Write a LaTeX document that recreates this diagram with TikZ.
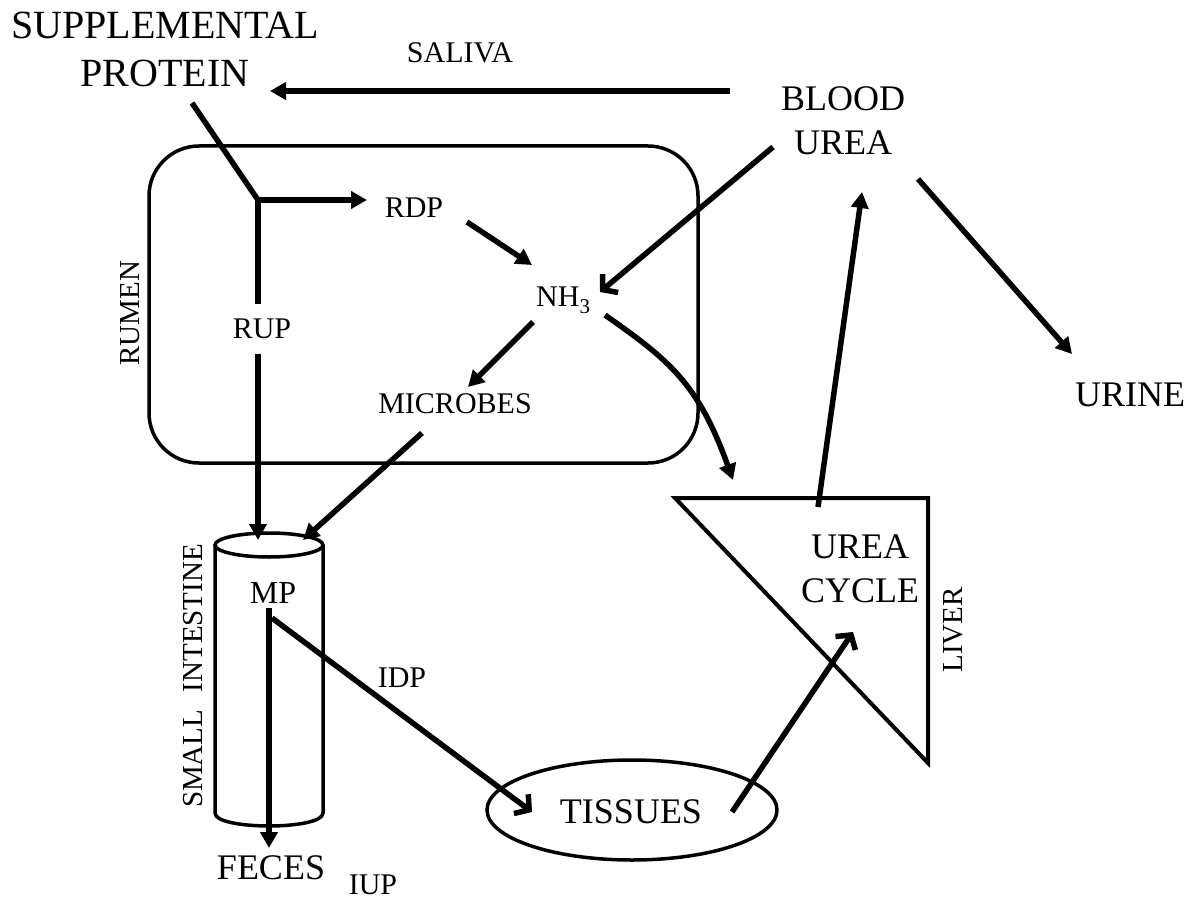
\documentclass[tikz,border=0pt]{standalone}
\usepackage{fontspec}
\setmainfont{Liberation Serif}
\usetikzlibrary{arrows.meta,calc,shapes.geometric}
\tikzset{
  sptxt/.style={font=\fontsize{40}{48}\selectfont, align=center, inner sep=0pt},
  bigtxt/.style={font=\fontsize{36}{44}\selectfont, align=center, inner sep=0pt},
  smalltxt/.style={font=\fontsize{30}{36}\selectfont, inner sep=0pt},
  sidetxt/.style={font=\fontsize{29}{34}\selectfont, inner sep=0pt, rotate=90},
  arr/.style={line width=5.5pt, -{Triangle[length=16pt,width=17pt]}},
  oarr/.style={line width=5.5pt, -{Straight Barb[length=10pt,width=24pt]}},
  plain/.style={line width=5.5pt},
  shapeline/.style={line width=3.5pt},
}
\begin{document}
\begin{tikzpicture}[x=1pt,y=-1pt]
\useasboundingbox (0,0) rectangle (1193,901);

% containers
\draw[shapeline, rounded corners=50pt] (149,146) rectangle (698,463);
\coordinate (cyl) at (269,679);
\draw[shapeline] (cyl) ++(0,-134) ellipse [x radius=54pt, y radius=12pt];
\draw[shapeline] (215,545) -- (215,813) .. controls (215,830.3) and (323,830.3) .. (323,813) -- (323,545);
\draw[shapeline, line width=4pt, line join=miter] (675,498) -- (928,498) -- (928,763) -- cycle;
\node[draw, shapeline, ellipse, minimum width=290pt, minimum height=100pt, inner sep=0pt] (tissues) at (632,810) {};
\node[bigtxt] (tissuestxt) at (631,812) {TISSUES};

% labels
\node[sptxt] (sp) at (165,49) {SUPPLEMENTAL\\PROTEIN};
\node[smalltxt] (saliva) at (460,53) {SALIVA};
\node[bigtxt] (blood) at (843,121) {BLOOD\\UREA};
\node[bigtxt] (urine) at (1130,395) {URINE};
\node[smalltxt] (rdp) at (414,208) {RDP};
\node[smalltxt, anchor=base west] (nh3) at (536,306) {NH\raisebox{-7pt}{\fontsize{21}{21}\selectfont 3}};
\node[smalltxt] (microbes) at (455,404) {MICROBES};
\node[bigtxt, font=\fontsize{32}{38}\selectfont] (mp) at (273,593) {MP};
\node[bigtxt] (feces) at (271,868) {FECES};
\node[smalltxt] (iup) at (373,885) {IUP};
\node[smalltxt] (idp) at (402,678) {IDP};
\node[bigtxt] (uc) at (860,569) {UREA\\CYCLE};
\node[sidetxt] (rumen) at (130,313) {RUMEN};
\node[sidetxt] (si) at (193,676) {SMALL\hspace{0.35em} INTESTINE};
\node[sidetxt] (liver) at (953,630) {LIVER};

% connectors
\coordinate (split) at (258,200);
\draw[arr] ($(blood)+(-113,-30)$) -- ($(sp)+(105,42)$);
\draw[plain] ($(sp)+(27,54)$) -- (split);
\draw[arr] (split) -- ($(rdp)+(-47,-8)$);
\draw[arr] (split) -- node[smalltxt, pos=0.38, xshift=4pt, fill=white, inner xsep=2pt, inner ysep=15pt] (rup) {RUP} ($(cyl)+(-11,-139)$);
\draw[arr] ($(rdp)+(53,14)$) -- ($(nh3.base west)+(-4,-41)$);
\draw[oarr] ($(blood)+(-70,26)$) -- ($(nh3.base west)+(64,-14)$);
\draw[arr] ($(nh3.base west)+(-3,16)$) -- ($(microbes)+(13,-17)$);
\draw[arr] ($(microbes)+(-33,29)$) -- ($(cyl)+(34,-139)$);
\draw[arr] ($(nh3.base west)+(69,9)$) .. controls ($(nh3.base west)+(133,54)$) and ($(uc)+(-162,-186)$) .. ($(uc)+(-127,-89)$);
\draw[arr] ($(uc)+(-42,-62)$) -- ($(blood)+(19,71)$);
\draw[arr] ($(blood)+(75,58)$) -- ($(urine)+(-58,-41)$);
\draw[arr] ($(mp)+(-4,15)$) -- ($(feces)+(-2,-20)$);
\draw[oarr] ($(mp)+(-1,25)$) -- ($(tissues)+(-100,2)$);
\draw[oarr] ($(tissues)+(100,2)$) -- ($(uc)+(-7,63)$);
\end{tikzpicture}
\end{document}
